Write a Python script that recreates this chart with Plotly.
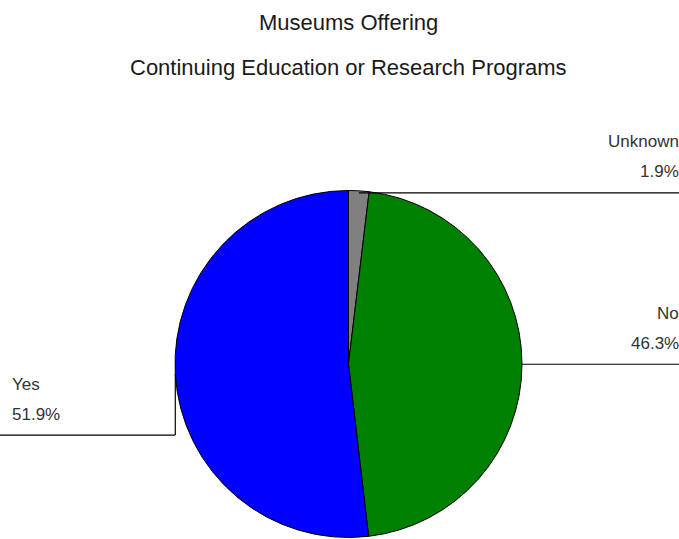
import math
import plotly.graph_objects as go

# Survey shares (percent), drawn clockwise from 12 o'clock
categories = ["Unknown", "No", "Yes"]
shares = [1.9, 46.3, 51.9]
slice_colors = ["#808080", "#008000", "#0000FF"]
title_lines = ["Museums Offering", "Continuing Education or Research Programs"]

W, H = 679, 539
CX, CY, R = 348.5, 364.0, 173.5        # pie centre / radius in pixels
FONT = "Liberation Sans, Arial, sans-serif"


def px(x):
    return x / W


def py(y):
    return 1 - y / H


fig = go.Figure(
    go.Pie(
        labels=categories,
        values=shares,
        marker=dict(colors=slice_colors, line=dict(color="#000000", width=1)),
        sort=False,
        direction="clockwise",
        rotation=0,
        textinfo="none",
        hoverinfo="label+percent",
        showlegend=False,
        domain=dict(x=[px(CX - R), px(CX + R)], y=[py(CY + R), py(CY - R)]),
    )
)

shapes = []
annotations = []

# Title, two lines centred over the pie
for text, yc in zip(title_lines, [22, 67]):
    annotations.append(dict(
        text=text, x=px(CX), y=py(yc), xref="paper", yref="paper",
        xanchor="center", yanchor="middle", showarrow=False,
        font=dict(family=FONT, size=22, color="#1a1a1a"),
    ))

# Leader lines and labels, anchored at each slice's mid-angle on the rim
total = sum(shares)
cum = 0.0
for name, v in zip(categories, shares):
    mid = (cum + v / 2) / total * 2 * math.pi
    cum += v
    ex = CX + R * math.sin(mid)
    ey = CY - R * math.cos(mid)
    line = dict(type="line", xref="paper", yref="paper",
                line=dict(color="#000000", width=1.2))
    if ex >= CX:
        ly = ey + 2 if ey < CY - R / 2 else ey
        shapes.append({**line, "x0": px(ex), "y0": py(ly), "x1": px(W + 5), "y1": py(ly)})
        tx, anchor = px(W + 2), "right"
    else:
        ly = ey + 61
        shapes.append({**line, "x0": px(ex), "y0": py(ey), "x1": px(ex), "y1": py(ly)})
        shapes.append({**line, "x0": px(ex), "y0": py(ly), "x1": px(-5), "y1": py(ly)})
        tx, anchor = px(10), "left"
    for text, dy in [(name, 51), (f"{v}%", 21)]:
        annotations.append(dict(
            text=text, x=tx, y=py(ly - dy), xref="paper", yref="paper",
            xanchor=anchor, yanchor="middle", showarrow=False,
            font=dict(family=FONT, size=17, color="#333333"),
        ))

fig.update_layout(
    width=W, height=H,
    margin=dict(l=0, r=0, t=0, b=0),
    paper_bgcolor="#ffffff",
    plot_bgcolor="#ffffff",
    shapes=shapes,
    annotations=annotations,
)

fig.write_html("out.html")
